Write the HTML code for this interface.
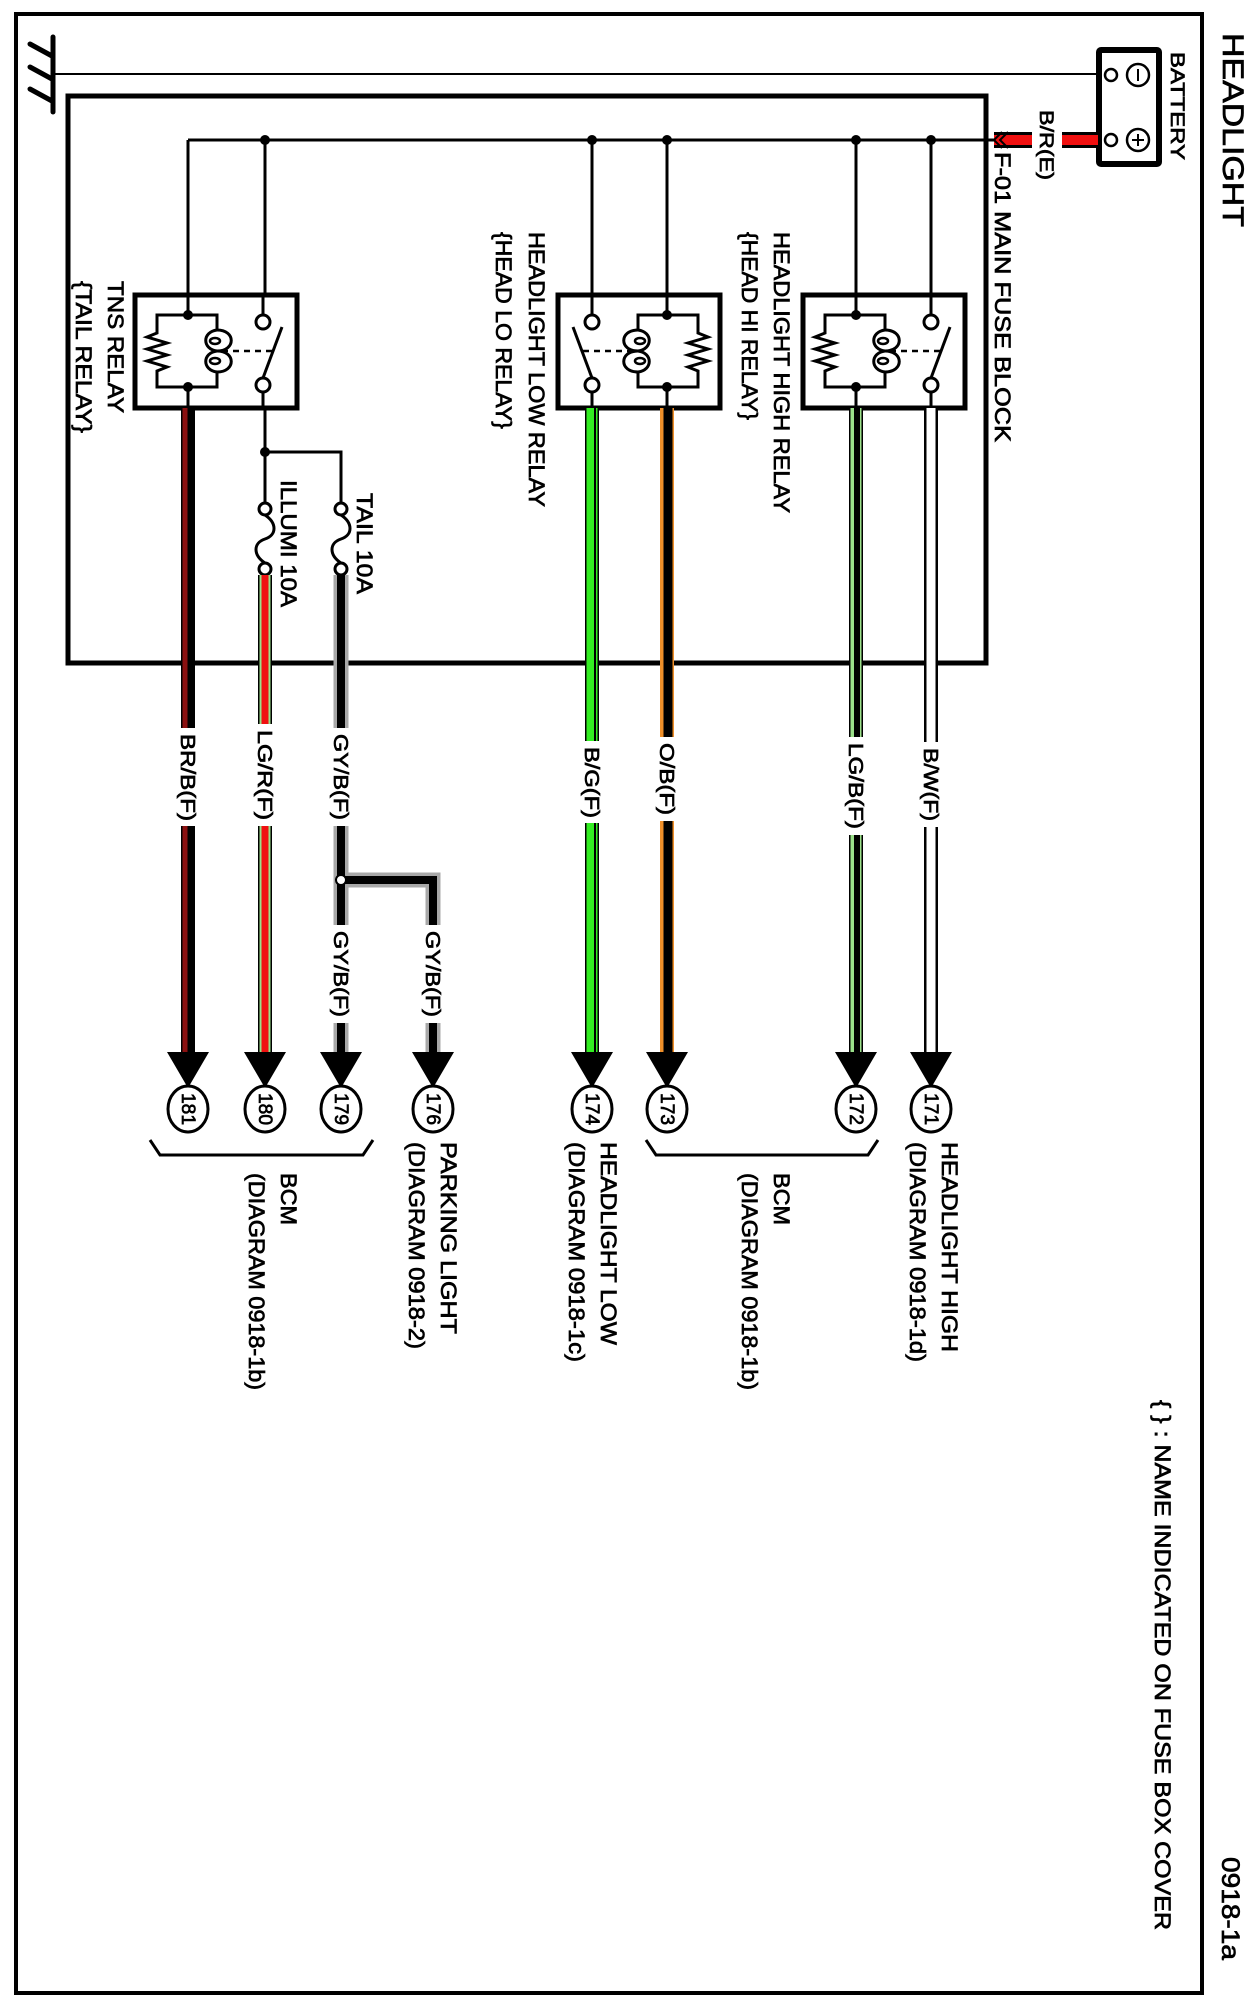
<!DOCTYPE html>
<html><head><meta charset="utf-8"><style>
html,body{margin:0;padding:0;background:#fff;}
svg{display:block;}
text{font-family:"Liberation Sans",sans-serif;fill:#000;stroke:#000;stroke-width:0.7px;}
</style></head><body>
<svg width="1257" height="2000" viewBox="0 0 1257 2000" xmlns="http://www.w3.org/2000/svg">
<defs>
<g id="relay">
  <rect x="-109" y="295" width="162" height="113" fill="#fff" stroke="#000" stroke-width="5"/>
  <line x1="0" y1="295" x2="0" y2="315" stroke="#000" stroke-width="3"/>
  <line x1="0" y1="387" x2="0" y2="408" stroke="#000" stroke-width="3"/>
  <line x1="-75" y1="295" x2="-75" y2="315" stroke="#000" stroke-width="3"/>
  <line x1="-75" y1="392" x2="-75" y2="408" stroke="#000" stroke-width="3"/>
  <circle cx="-75" cy="322" r="7" fill="#fff" stroke="#000" stroke-width="3"/>
  <circle cx="-75" cy="385" r="7" fill="#fff" stroke="#000" stroke-width="3"/>
  <line x1="-75" y1="378" x2="-94" y2="327" stroke="#000" stroke-width="3"/>
  <line x1="-84" y1="351" x2="-34" y2="351" stroke="#000" stroke-width="2.5" stroke-dasharray="6,5"/>
  <path d="M0,315 H-29 V330 M-29,372 V387 H0 M0,315 H31 V333 L41,337 L21,343 L41,349 L21,355 L41,361 L21,367 L31,371 V387 H0" fill="none" stroke="#000" stroke-width="3"/>
  <path d="M-29,330 C-48,330 -48,351 -29,351 C-48,351 -48,372 -29,372" fill="none" stroke="#000" stroke-width="3"/>
  <path d="M-29,330 C-14,332 -14,349 -29,351 C-14,353 -14,370 -29,372" fill="none" stroke="#000" stroke-width="3"/>
  <ellipse cx="-27" cy="341" rx="5" ry="3" fill="none" stroke="#000" stroke-width="2.5"/>
  <ellipse cx="-27" cy="361" rx="5" ry="3" fill="none" stroke="#000" stroke-width="2.5"/>
  <circle cx="0" cy="315" r="5"/>
  <circle cx="0" cy="387" r="5"/>
</g>
</defs>

<rect x="16" y="14" width="1186" height="1979" fill="none" stroke="#000" stroke-width="4"/>

<line x1="53" y1="37" x2="53" y2="112" stroke="#000" stroke-width="5" stroke-linecap="round"/>
<line x1="30" y1="44" x2="52" y2="56" stroke="#000" stroke-width="5" stroke-linecap="round"/>
<line x1="30" y1="67" x2="52" y2="79" stroke="#000" stroke-width="5" stroke-linecap="round"/>
<line x1="30" y1="89" x2="52" y2="101" stroke="#000" stroke-width="5" stroke-linecap="round"/>
<line x1="53" y1="74" x2="1103" y2="74" stroke="#000" stroke-width="2"/>

<rect x="1099" y="50" width="60" height="114" fill="#fff" stroke="#000" stroke-width="6" rx="2"/>
<circle cx="1111" cy="75" r="6" fill="#fff" stroke="#000" stroke-width="2.5"/>
<circle cx="1138" cy="75" r="11" fill="none" stroke="#000" stroke-width="2.5"/>
<line x1="1138" y1="69" x2="1138" y2="81" stroke="#000" stroke-width="2"/>
<circle cx="1111" cy="140" r="6" fill="#fff" stroke="#000" stroke-width="2.5"/>
<circle cx="1138" cy="140" r="11" fill="none" stroke="#000" stroke-width="2.5"/>
<line x1="1138" y1="134" x2="1138" y2="146" stroke="#000" stroke-width="2"/>
<line x1="1132" y1="140" x2="1144" y2="140" stroke="#000" stroke-width="2"/>

<rect x="994" y="132" width="38" height="16" fill="#000"/>
<rect x="994" y="135" width="38" height="10" fill="#f01010"/>
<rect x="1062" y="132" width="36" height="16" fill="#000"/>
<rect x="1062" y="135" width="36" height="10" fill="#f01010"/>
<path d="M1002,132 L994,140 L1002,148 M1008,132 L1000,140 L1008,148" fill="none" stroke="#000" stroke-width="2"/>

<rect x="68" y="96" width="918" height="567" fill="none" stroke="#000" stroke-width="5"/>

<line x1="188" y1="140" x2="994" y2="140" stroke="#000" stroke-width="3"/>
<g stroke="#000" stroke-width="3">
<line x1="188" y1="140" x2="188" y2="300"/>
<line x1="265" y1="140" x2="265" y2="300"/>
<line x1="592" y1="140" x2="592" y2="300"/>
<line x1="667" y1="140" x2="667" y2="300"/>
<line x1="856" y1="140" x2="856" y2="300"/>
<line x1="931" y1="140" x2="931" y2="300"/>
</g>
<circle cx="265" cy="140" r="5"/><circle cx="592" cy="140" r="5"/><circle cx="667" cy="140" r="5"/><circle cx="856" cy="140" r="5"/><circle cx="931" cy="140" r="5"/>

<use href="#relay" transform="translate(188,0) scale(-1,1)"/>
<use href="#relay" transform="translate(667,0)"/>
<use href="#relay" transform="translate(856,0) scale(-1,1)"/>

<g stroke="#000" stroke-width="3" fill="none">
<line x1="265" y1="408" x2="265" y2="503"/>
<path d="M265,452 H341 V503"/>
<path d="M265,515 C277,523 277,535 265,539 C253,543 253,555 265,563"/>
<path d="M341,515 C353,523 353,535 341,539 C329,543 329,555 341,563"/>
<circle cx="265" cy="509" r="6" fill="#fff"/>
<circle cx="265" cy="569" r="6" fill="#fff"/>
<circle cx="341" cy="509" r="6" fill="#fff"/>
<circle cx="341" cy="569" r="6" fill="#fff"/>
</g>
<circle cx="265" cy="452" r="5"/>

<line x1="188" y1="408" x2="188" y2="1056" stroke="#000" stroke-width="14"/>
<line x1="185" y1="408" x2="185" y2="1056" stroke="#8a1010" stroke-width="5"/>
<line x1="265" y1="575" x2="265" y2="1056" stroke="#000" stroke-width="14"/>
<line x1="265" y1="575" x2="265" y2="1056" stroke="#9be08a" stroke-width="11"/>
<line x1="265" y1="575" x2="265" y2="1056" stroke="#f01010" stroke-width="7"/>
<path d="M341,575 V1056 M341,880 H433 V1056" fill="none" stroke="#a8a8a8" stroke-width="15"/>
<path d="M341,575 V1056 M341,880 H433 V1056" fill="none" stroke="#000" stroke-width="8"/>
<circle cx="341" cy="880" r="5" fill="#fff" stroke="#000" stroke-width="2"/>
<line x1="592" y1="408" x2="592" y2="1056" stroke="#000" stroke-width="14"/>
<line x1="592" y1="408" x2="592" y2="1056" stroke="#33ee22" stroke-width="11"/>
<line x1="595" y1="408" x2="595" y2="1056" stroke="#000" stroke-width="2"/>
<line x1="667" y1="408" x2="667" y2="1056" stroke="#f0902a" stroke-width="14"/>
<line x1="668" y1="408" x2="668" y2="1056" stroke="#000" stroke-width="9"/>
<line x1="856" y1="408" x2="856" y2="1056" stroke="#000" stroke-width="14"/>
<line x1="856" y1="408" x2="856" y2="1056" stroke="#9be08a" stroke-width="11"/>
<line x1="857" y1="408" x2="857" y2="1056" stroke="#000" stroke-width="6"/>
<line x1="931" y1="408" x2="931" y2="1056" stroke="#000" stroke-width="14"/>
<line x1="931" y1="408" x2="931" y2="1056" stroke="#fff" stroke-width="9"/>

<g fill="#fff">
<rect x="176" y="728" width="24" height="98"/>
<rect x="253" y="724" width="24" height="102"/>
<rect x="328" y="728" width="26" height="98"/>
<rect x="580" y="741" width="24" height="82"/>
<rect x="655" y="737" width="24" height="84"/>
<rect x="844" y="737" width="24" height="98"/>
<rect x="919" y="742" width="24" height="85"/>
<rect x="328" y="925" width="26" height="98"/>
<rect x="420" y="925" width="26" height="98"/>
</g>

<g>
<polygon points="167,1052 209,1052 188,1088"/>
<polygon points="244,1052 286,1052 265,1088"/>
<polygon points="320,1052 362,1052 341,1088"/>
<polygon points="412,1052 454,1052 433,1088"/>
<polygon points="571,1052 613,1052 592,1088"/>
<polygon points="646,1052 688,1052 667,1088"/>
<polygon points="835,1052 877,1052 856,1088"/>
<polygon points="910,1052 952,1052 931,1088"/>
</g>
<g fill="#fff" stroke="#000" stroke-width="3">
<ellipse cx="188" cy="1109" rx="20" ry="23"/>
<ellipse cx="265" cy="1109" rx="20" ry="23"/>
<ellipse cx="341" cy="1109" rx="20" ry="23"/>
<ellipse cx="433" cy="1109" rx="20" ry="23"/>
<ellipse cx="592" cy="1109" rx="20" ry="23"/>
<ellipse cx="667" cy="1109" rx="20" ry="23"/>
<ellipse cx="856" cy="1109" rx="20" ry="23"/>
<ellipse cx="931" cy="1109" rx="20" ry="23"/>
</g>
<g font-size="19" text-anchor="middle">
<text transform="translate(182,1109) rotate(90)" textLength="32" lengthAdjust="spacingAndGlyphs">181</text>
<text transform="translate(259,1109) rotate(90)" textLength="32" lengthAdjust="spacingAndGlyphs">180</text>
<text transform="translate(335,1109) rotate(90)" textLength="32" lengthAdjust="spacingAndGlyphs">179</text>
<text transform="translate(427,1109) rotate(90)" textLength="32" lengthAdjust="spacingAndGlyphs">176</text>
<text transform="translate(586,1109) rotate(90)" textLength="32" lengthAdjust="spacingAndGlyphs">174</text>
<text transform="translate(661,1109) rotate(90)" textLength="32" lengthAdjust="spacingAndGlyphs">173</text>
<text transform="translate(850,1109) rotate(90)" textLength="32" lengthAdjust="spacingAndGlyphs">172</text>
<text transform="translate(925,1109) rotate(90)" textLength="32" lengthAdjust="spacingAndGlyphs">171</text>
</g>

<path d="M150,1140 L160,1155 H363 L373,1140" fill="none" stroke="#000" stroke-width="3"/>
<path d="M646,1140 L656,1155 H868 L878,1140" fill="none" stroke="#000" stroke-width="3"/>

<g font-size="20">
<text transform="translate(181,734) rotate(90)" textLength="87" lengthAdjust="spacingAndGlyphs">BR/B(F)</text>
<text transform="translate(258,730) rotate(90)" textLength="90" lengthAdjust="spacingAndGlyphs">LG/R(F)</text>
<text transform="translate(334,734) rotate(90)" textLength="86" lengthAdjust="spacingAndGlyphs">GY/B(F)</text>
<text transform="translate(585,747) rotate(90)" textLength="71" lengthAdjust="spacingAndGlyphs">B/G(F)</text>
<text transform="translate(660,743) rotate(90)" textLength="72" lengthAdjust="spacingAndGlyphs">O/B(F)</text>
<text transform="translate(849,743) rotate(90)" textLength="86" lengthAdjust="spacingAndGlyphs">LG/B(F)</text>
<text transform="translate(924,748) rotate(90)" textLength="73" lengthAdjust="spacingAndGlyphs">B/W(F)</text>
<text transform="translate(334,931) rotate(90)" textLength="86" lengthAdjust="spacingAndGlyphs">GY/B(F)</text>
<text transform="translate(426,931) rotate(90)" textLength="86" lengthAdjust="spacingAndGlyphs">GY/B(F)</text>
</g>

<text transform="translate(1223,33) rotate(90)" font-size="30" textLength="194" lengthAdjust="spacingAndGlyphs">HEADLIGHT</text>
<text transform="translate(1171,52) rotate(90)" font-size="19" textLength="108" lengthAdjust="spacingAndGlyphs">BATTERY</text>
<text transform="translate(1040,110) rotate(90)" font-size="19" textLength="70" lengthAdjust="spacingAndGlyphs">B/R(E)</text>
<text transform="translate(995,152) rotate(90)" font-size="22" textLength="290" lengthAdjust="spacingAndGlyphs">F-01  MAIN FUSE BLOCK</text>

<g font-size="22">
<text transform="translate(108,281) rotate(90)" textLength="132" lengthAdjust="spacingAndGlyphs">TNS RELAY</text>
<text transform="translate(76,281) rotate(90)" textLength="152" lengthAdjust="spacingAndGlyphs">{TAIL RELAY}</text>
<text transform="translate(529,232) rotate(90)" textLength="275" lengthAdjust="spacingAndGlyphs">HEADLIGHT LOW RELAY</text>
<text transform="translate(496,232) rotate(90)" textLength="197" lengthAdjust="spacingAndGlyphs">{HEAD LO RELAY}</text>
<text transform="translate(774,232) rotate(90)" textLength="281" lengthAdjust="spacingAndGlyphs">HEADLIGHT HIGH RELAY</text>
<text transform="translate(742,232) rotate(90)" textLength="188" lengthAdjust="spacingAndGlyphs">{HEAD HI RELAY}</text>
<text transform="translate(281,480) rotate(90)" textLength="127" lengthAdjust="spacingAndGlyphs">ILLUMI 10A</text>
<text transform="translate(357,493) rotate(90)" textLength="101" lengthAdjust="spacingAndGlyphs">TAIL 10A</text>

<text transform="translate(281,1173) rotate(90)" textLength="52" lengthAdjust="spacingAndGlyphs">BCM</text>
<text transform="translate(249,1173) rotate(90)" textLength="217" lengthAdjust="spacingAndGlyphs">(DIAGRAM  0918-1b)</text>
<text transform="translate(441,1142) rotate(90)" textLength="192" lengthAdjust="spacingAndGlyphs">PARKING LIGHT</text>
<text transform="translate(409,1142) rotate(90)" textLength="207" lengthAdjust="spacingAndGlyphs">(DIAGRAM  0918-2)</text>
<text transform="translate(601,1142) rotate(90)" textLength="203" lengthAdjust="spacingAndGlyphs">HEADLIGHT LOW</text>
<text transform="translate(569,1142) rotate(90)" textLength="220" lengthAdjust="spacingAndGlyphs">(DIAGRAM  0918-1c)</text>
<text transform="translate(774,1173) rotate(90)" textLength="52" lengthAdjust="spacingAndGlyphs">BCM</text>
<text transform="translate(742,1173) rotate(90)" textLength="217" lengthAdjust="spacingAndGlyphs">(DIAGRAM  0918-1b)</text>
<text transform="translate(942,1142) rotate(90)" textLength="210" lengthAdjust="spacingAndGlyphs">HEADLIGHT HIGH</text>
<text transform="translate(910,1142) rotate(90)" textLength="220" lengthAdjust="spacingAndGlyphs">(DIAGRAM  0918-1d)</text>

<text transform="translate(1155,1400) rotate(90)" textLength="530" lengthAdjust="spacingAndGlyphs">{ } : NAME INDICATED ON FUSE BOX COVER</text>
</g>
<text transform="translate(1222,1857) rotate(90)" font-size="25" textLength="103" lengthAdjust="spacingAndGlyphs">0918-1a</text>
</svg>
</body></html>
